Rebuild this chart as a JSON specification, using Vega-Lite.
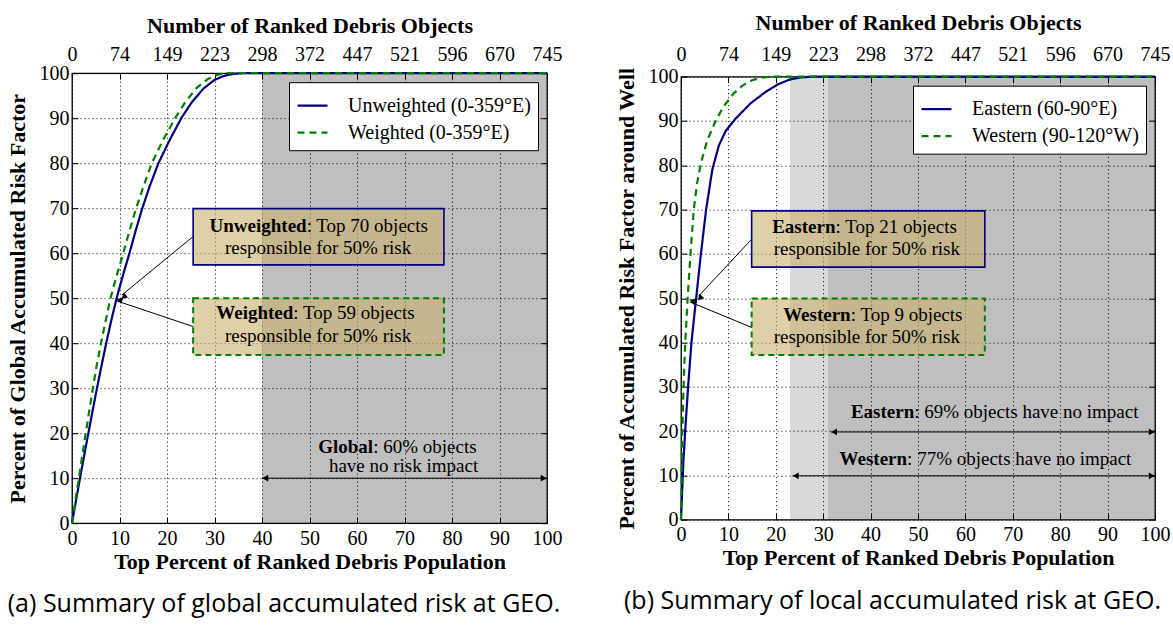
{
  "$schema": "https://vega.github.io/schema/vega-lite/v6.json",
  "background": "white",
  "padding": {"left": 5, "top": 11, "right": 0, "bottom": 5},
  "spacing": 51,
  "center": true,
  "config": {
    "font": "Liberation Serif",
    "view": {"stroke": "black", "strokeWidth": 1.3},
    "axis": {
      "domain": false,
      "labelFlush": false,
      "tickColor": "black",
      "tickSize": -6,
      "tickWidth": 1,
      "labelFont": "Liberation Serif",
      "labelFontSize": 20,
      "labelColor": "black",
      "labelPadding": 11,
      "titleFont": "Liberation Serif",
      "titleFontSize": 22,
      "titleFontWeight": "bold",
      "titleColor": "black",
      "gridColor": "black",
      "gridDash": [1, 3],
      "gridWidth": 1,
      "gridOpacity": 1
    },
    "legend": {
      "orient": "top-right",
      "offset": 9,
      "fillColor": "white",
      "strokeColor": "black",
      "padding": 7,
      "labelFont": "Liberation Serif",
      "labelFontSize": 20,
      "labelColor": "black",
      "labelLimit": 400,
      "symbolType": "stroke",
      "symbolSize": 900,
      "symbolStrokeWidth": 2.2,
      "labelOffset": 19,
      "rowPadding": -5,
      "title": null
    },
    "text": {"font": "Liberation Serif", "fontSize": 19, "color": "black", "baseline": "middle"},
    "title": {"font": "Open Sans", "fontSize": 25, "fontWeight": "normal", "color": "black"}
  },
  "resolve": {
    "scale": {"color": "independent", "strokeDash": "independent", "x": "independent", "y": "independent"},
    "legend": {"color": "independent", "strokeDash": "independent"}
  },
  "hconcat": [
    {
      "width": 475,
      "height": 450,
      "title": {"text": "(a) Summary of global accumulated risk at GEO.", "orient": "bottom", "anchor": "middle", "frame": "bounds", "offset": 20},
      "resolve": {"axis": {"x": "independent", "y": "independent"}},
      "layer": [
        {
          "data": {"values": [{"a": 40, "b": 100, "lo": 0, "hi": 100}]},
          "mark": {"type": "rect", "fill": "black", "opacity": 0.25},
          "encoding": {
            "x": {"field": "a", "type": "quantitative", "scale": {"domain": [0, 100], "nice": false},
              "axis": {"orient": "bottom", "values": [0,10,20,30,40,50,60,70,80,90,100], "grid": true, "title": "Top Percent of Ranked Debris Population", "titlePadding": 3}},
            "x2": {"field": "b"},
            "y": {"field": "lo", "type": "quantitative", "scale": {"domain": [0, 100], "nice": false},
              "axis": {"orient": "left", "values": [0,10,20,30,40,50,60,70,80,90,100], "grid": true, "title": "Percent of Global Accumulated Risk Factor", "labelPadding": 9, "titlePadding": 10}},
            "y2": {"field": "hi"}
          }
        },
        {
          "data": {"values": [
            {"pct": 0, "risk": 0, "series": "Unweighted (0-359°E)"},
            {"pct": 1, "risk": 6, "series": "Unweighted (0-359°E)"},
            {"pct": 2, "risk": 11.8, "series": "Unweighted (0-359°E)"},
            {"pct": 3, "risk": 17.5, "series": "Unweighted (0-359°E)"},
            {"pct": 4, "risk": 23.1, "series": "Unweighted (0-359°E)"},
            {"pct": 5, "risk": 28.6, "series": "Unweighted (0-359°E)"},
            {"pct": 6, "risk": 33.9, "series": "Unweighted (0-359°E)"},
            {"pct": 7.2, "risk": 40, "series": "Unweighted (0-359°E)"},
            {"pct": 8.3, "risk": 45.2, "series": "Unweighted (0-359°E)"},
            {"pct": 9.4, "risk": 50, "series": "Unweighted (0-359°E)"},
            {"pct": 10.7, "risk": 55, "series": "Unweighted (0-359°E)"},
            {"pct": 12.1, "risk": 60, "series": "Unweighted (0-359°E)"},
            {"pct": 13.4, "risk": 65, "series": "Unweighted (0-359°E)"},
            {"pct": 14.8, "risk": 70, "series": "Unweighted (0-359°E)"},
            {"pct": 16.4, "risk": 75, "series": "Unweighted (0-359°E)"},
            {"pct": 18.2, "risk": 80, "series": "Unweighted (0-359°E)"},
            {"pct": 20.5, "risk": 85, "series": "Unweighted (0-359°E)"},
            {"pct": 23, "risk": 90, "series": "Unweighted (0-359°E)"},
            {"pct": 25.2, "risk": 93.5, "series": "Unweighted (0-359°E)"},
            {"pct": 27.6, "risk": 96.5, "series": "Unweighted (0-359°E)"},
            {"pct": 30, "risk": 98.5, "series": "Unweighted (0-359°E)"},
            {"pct": 32, "risk": 99.4, "series": "Unweighted (0-359°E)"},
            {"pct": 34, "risk": 99.85, "series": "Unweighted (0-359°E)"},
            {"pct": 36, "risk": 100, "series": "Unweighted (0-359°E)"},
            {"pct": 100, "risk": 100, "series": "Unweighted (0-359°E)"},
            {"pct": 0, "risk": 0, "series": "Weighted (0-359°E)"},
            {"pct": 1, "risk": 7, "series": "Weighted (0-359°E)"},
            {"pct": 2, "risk": 13.9, "series": "Weighted (0-359°E)"},
            {"pct": 3, "risk": 20.7, "series": "Weighted (0-359°E)"},
            {"pct": 4, "risk": 27.4, "series": "Weighted (0-359°E)"},
            {"pct": 5.1, "risk": 34.5, "series": "Weighted (0-359°E)"},
            {"pct": 6.1, "risk": 40, "series": "Weighted (0-359°E)"},
            {"pct": 7.1, "risk": 45, "series": "Weighted (0-359°E)"},
            {"pct": 8.1, "risk": 50, "series": "Weighted (0-359°E)"},
            {"pct": 9.4, "risk": 55, "series": "Weighted (0-359°E)"},
            {"pct": 10.8, "risk": 60, "series": "Weighted (0-359°E)"},
            {"pct": 12.1, "risk": 65, "series": "Weighted (0-359°E)"},
            {"pct": 13.5, "risk": 70, "series": "Weighted (0-359°E)"},
            {"pct": 15.1, "risk": 75, "series": "Weighted (0-359°E)"},
            {"pct": 16.8, "risk": 80, "series": "Weighted (0-359°E)"},
            {"pct": 19.1, "risk": 85, "series": "Weighted (0-359°E)"},
            {"pct": 21.7, "risk": 90, "series": "Weighted (0-359°E)"},
            {"pct": 23.8, "risk": 93.5, "series": "Weighted (0-359°E)"},
            {"pct": 26.3, "risk": 96.8, "series": "Weighted (0-359°E)"},
            {"pct": 28.6, "risk": 98.7, "series": "Weighted (0-359°E)"},
            {"pct": 30.5, "risk": 99.6, "series": "Weighted (0-359°E)"},
            {"pct": 32.5, "risk": 100, "series": "Weighted (0-359°E)"},
            {"pct": 100, "risk": 100, "series": "Weighted (0-359°E)"}
          ]},
          "mark": {"type": "line", "strokeWidth": 2.2},
          "encoding": {
            "x": {"field": "pct", "type": "quantitative", "scale": {"domain": [0, 100], "nice": false},
              "axis": {"orient": "top", "values": [0,10,20,30,40,50,60,70,80,90,100], "grid": false, "labelExpr": "floor(datum.value * 7.45 + 0.001)", "title": "Number of Ranked Debris Objects", "titlePadding": 7, "labelPadding": 15}},
            "y": {"field": "risk", "type": "quantitative", "scale": {"domain": [0, 100], "nice": false},
              "axis": {"orient": "right", "values": [0,10,20,30,40,50,60,70,80,90,100], "grid": false, "labels": false, "title": null}},
            "color": {"field": "series", "type": "nominal",
              "scale": {"domain": ["Unweighted (0-359°E)", "Weighted (0-359°E)"], "range": ["#000080", "#008000"]}},
            "strokeDash": {"field": "series", "type": "nominal",
              "scale": {"domain": ["Unweighted (0-359°E)", "Weighted (0-359°E)"], "range": [[1, 0], [7, 5]]}}
          }
        },
        {
          "data": {"values": [{"x1": 25.5, "x2": 78.3, "y1": 57.4, "y2": 69.9}]},
          "mark": {"type": "rect", "fill": "#c9b16e", "fillOpacity": 0.6, "stroke": "#000080", "strokeWidth": 1.6},
          "encoding": {
            "x": {"field": "x1", "type": "quantitative", "axis": null},
            "x2": {"field": "x2"},
            "y": {"field": "y1", "type": "quantitative", "axis": null},
            "y2": {"field": "y2"}
          }
        },
        {
          "data": {"values": [{"x1": 25.5, "x2": 78.3, "y1": 37.4, "y2": 50.0}]},
          "mark": {"type": "rect", "fill": "#c9b16e", "fillOpacity": 0.6, "stroke": "#008000", "strokeWidth": 2, "strokeDash": [6, 4]},
          "encoding": {
            "x": {"field": "x1", "type": "quantitative", "axis": null},
            "x2": {"field": "x2"},
            "y": {"field": "y1", "type": "quantitative", "axis": null},
            "y2": {"field": "y2"}
          }
        },
        {
          "data": {"values": [
            {"x1": 25.5, "y1": 63.7, "x2": 10.5, "y2": 50.7},
            {"x1": 25.5, "y1": 43.7, "x2": 9.4, "y2": 49.4},
            {"x1": 40, "y1": 10, "x2": 100, "y2": 10}
          ]},
          "mark": {"type": "rule", "color": "black", "strokeWidth": 1},
          "encoding": {
            "x": {"field": "x1", "type": "quantitative", "axis": null},
            "y": {"field": "y1", "type": "quantitative", "axis": null},
            "x2": {"field": "x2"},
            "y2": {"field": "y2"}
          }
        },
        {
          "data": {"values": [{"x": 10.9, "y": 50.3}]},
          "mark": {"type": "point", "shape": "triangle-up", "angle": 231, "size": 45, "filled": true, "color": "black", "opacity": 1},
          "encoding": {"x": {"field": "x", "type": "quantitative", "axis": null}, "y": {"field": "y", "type": "quantitative", "axis": null}}
        },
        {
          "data": {"values": [{"x": 10.0, "y": 49.6}]},
          "mark": {"type": "point", "shape": "triangle-up", "angle": 288, "size": 45, "filled": true, "color": "black", "opacity": 1},
          "encoding": {"x": {"field": "x", "type": "quantitative", "axis": null}, "y": {"field": "y", "type": "quantitative", "axis": null}}
        },
        {
          "data": {"values": [{"x": 40.7, "y": 10}]},
          "mark": {"type": "point", "shape": "triangle-left", "size": 45, "filled": true, "color": "black", "opacity": 1},
          "encoding": {"x": {"field": "x", "type": "quantitative", "axis": null}, "y": {"field": "y", "type": "quantitative", "axis": null}}
        },
        {
          "data": {"values": [{"x": 99.3, "y": 10}]},
          "mark": {"type": "point", "shape": "triangle-right", "size": 45, "filled": true, "color": "black", "opacity": 1},
          "encoding": {"x": {"field": "x", "type": "quantitative", "axis": null}, "y": {"field": "y", "type": "quantitative", "axis": null}}
        },
        {
          "data": {"values": [
            {"x": 49.4, "y": 66.1, "t": "Unweighted"},
            {"x": 46.6, "y": 46.8, "t": "Weighted"},
            {"x": 63.4, "y": 17.0, "t": "Global"}
          ]},
          "mark": {"type": "text", "align": "right", "fontWeight": "bold"},
          "encoding": {"x": {"field": "x", "type": "quantitative", "axis": null}, "y": {"field": "y", "type": "quantitative", "axis": null}, "text": {"field": "t"}}
        },
        {
          "data": {"values": [
            {"x": 49.4, "y": 66.1, "t": ": Top 70 objects"},
            {"x": 46.6, "y": 46.8, "t": ": Top 59 objects"},
            {"x": 63.4, "y": 17.0, "t": ": 60% objects"}
          ]},
          "mark": {"type": "text", "align": "left"},
          "encoding": {"x": {"field": "x", "type": "quantitative", "axis": null}, "y": {"field": "y", "type": "quantitative", "axis": null}, "text": {"field": "t"}}
        },
        {
          "data": {"values": [
            {"x": 51.8, "y": 61.2, "t": "responsible for 50% risk"},
            {"x": 51.8, "y": 41.6, "t": "responsible for 50% risk"},
            {"x": 69.8, "y": 12.7, "t": "have no risk impact"}
          ]},
          "mark": {"type": "text", "align": "center"},
          "encoding": {"x": {"field": "x", "type": "quantitative", "axis": null}, "y": {"field": "y", "type": "quantitative", "axis": null}, "text": {"field": "t"}}
        }
      ]
    },
    {
      "width": 474,
      "height": 443,
      "title": {"text": "(b) Summary of local accumulated risk at GEO.", "orient": "bottom", "anchor": "middle", "frame": "bounds", "offset": 20},
      "resolve": {"axis": {"x": "independent", "y": "independent"}},
      "layer": [
        {
          "data": {"values": [{"a": 23, "b": 31, "lo": 0, "hi": 100}]},
          "mark": {"type": "rect", "fill": "black", "opacity": 0.15},
          "encoding": {
            "x": {"field": "a", "type": "quantitative", "scale": {"domain": [0, 100], "nice": false},
              "axis": {"orient": "bottom", "values": [0,10,20,30,40,50,60,70,80,90,100], "grid": true, "title": "Top Percent of Ranked Debris Population", "titlePadding": 3}},
            "x2": {"field": "b"},
            "y": {"field": "lo", "type": "quantitative", "scale": {"domain": [0, 100], "nice": false},
              "axis": {"orient": "left", "values": [0,10,20,30,40,50,60,70,80,90,100], "grid": true, "title": "Percent of Accumulated Risk Factor around Well", "labelPadding": 9, "titlePadding": 10}},
            "y2": {"field": "hi"}
          }
        },
        {
          "data": {"values": [{"a": 31, "b": 100, "lo": 0, "hi": 100}]},
          "mark": {"type": "rect", "fill": "black", "opacity": 0.25},
          "encoding": {
            "x": {"field": "a", "type": "quantitative", "axis": null},
            "x2": {"field": "b"},
            "y": {"field": "lo", "type": "quantitative", "axis": null},
            "y2": {"field": "hi"}
          }
        },
        {
          "data": {"values": [
            {"pct": 0, "risk": 0, "series": "Eastern (60-90°E)"},
            {"pct": 0.5, "risk": 13, "series": "Eastern (60-90°E)"},
            {"pct": 1, "risk": 22, "series": "Eastern (60-90°E)"},
            {"pct": 1.5, "risk": 30, "series": "Eastern (60-90°E)"},
            {"pct": 2.2, "risk": 40, "series": "Eastern (60-90°E)"},
            {"pct": 3.2, "risk": 50, "series": "Eastern (60-90°E)"},
            {"pct": 4.2, "risk": 60, "series": "Eastern (60-90°E)"},
            {"pct": 5.3, "risk": 70, "series": "Eastern (60-90°E)"},
            {"pct": 6.6, "risk": 79, "series": "Eastern (60-90°E)"},
            {"pct": 8, "risk": 84.5, "series": "Eastern (60-90°E)"},
            {"pct": 9.4, "risk": 87.7, "series": "Eastern (60-90°E)"},
            {"pct": 11.5, "risk": 90.5, "series": "Eastern (60-90°E)"},
            {"pct": 14.7, "risk": 94, "series": "Eastern (60-90°E)"},
            {"pct": 17.9, "risk": 96.6, "series": "Eastern (60-90°E)"},
            {"pct": 20.5, "risk": 98.3, "series": "Eastern (60-90°E)"},
            {"pct": 22.8, "risk": 99.3, "series": "Eastern (60-90°E)"},
            {"pct": 25, "risk": 99.8, "series": "Eastern (60-90°E)"},
            {"pct": 27.5, "risk": 100, "series": "Eastern (60-90°E)"},
            {"pct": 100, "risk": 100, "series": "Eastern (60-90°E)"},
            {"pct": 0, "risk": 0, "series": "Western (90-120°W)"},
            {"pct": 0.2, "risk": 15, "series": "Western (90-120°W)"},
            {"pct": 0.4, "risk": 25, "series": "Western (90-120°W)"},
            {"pct": 0.7, "risk": 35, "series": "Western (90-120°W)"},
            {"pct": 1.0, "risk": 42, "series": "Western (90-120°W)"},
            {"pct": 1.4, "risk": 50, "series": "Western (90-120°W)"},
            {"pct": 2, "risk": 60, "series": "Western (90-120°W)"},
            {"pct": 2.7, "risk": 70, "series": "Western (90-120°W)"},
            {"pct": 3.4, "risk": 76, "series": "Western (90-120°W)"},
            {"pct": 4.2, "risk": 80.5, "series": "Western (90-120°W)"},
            {"pct": 5.5, "risk": 85.5, "series": "Western (90-120°W)"},
            {"pct": 7.3, "risk": 90, "series": "Western (90-120°W)"},
            {"pct": 9, "risk": 93.3, "series": "Western (90-120°W)"},
            {"pct": 11.2, "risk": 96.3, "series": "Western (90-120°W)"},
            {"pct": 13, "risk": 98, "series": "Western (90-120°W)"},
            {"pct": 15, "risk": 99.2, "series": "Western (90-120°W)"},
            {"pct": 17, "risk": 99.8, "series": "Western (90-120°W)"},
            {"pct": 19, "risk": 100, "series": "Western (90-120°W)"},
            {"pct": 100, "risk": 100, "series": "Western (90-120°W)"}
          ]},
          "mark": {"type": "line", "strokeWidth": 2.2},
          "encoding": {
            "x": {"field": "pct", "type": "quantitative", "scale": {"domain": [0, 100], "nice": false},
              "axis": {"orient": "top", "values": [0,10,20,30,40,50,60,70,80,90,100], "grid": false, "labelExpr": "floor(datum.value * 7.45 + 0.001)", "title": "Number of Ranked Debris Objects", "titlePadding": 10, "labelPadding": 18}},
            "y": {"field": "risk", "type": "quantitative", "scale": {"domain": [0, 100], "nice": false},
              "axis": {"orient": "right", "values": [0,10,20,30,40,50,60,70,80,90,100], "grid": false, "labels": false, "title": null}},
            "color": {"field": "series", "type": "nominal",
              "scale": {"domain": ["Eastern (60-90°E)", "Western (90-120°W)"], "range": ["#000080", "#008000"]}},
            "strokeDash": {"field": "series", "type": "nominal",
              "scale": {"domain": ["Eastern (60-90°E)", "Western (90-120°W)"], "range": [[1, 0], [7, 5]]}}
          }
        },
        {
          "data": {"values": [{"x1": 14.9, "x2": 64.1, "y1": 57.0, "y2": 69.7}]},
          "mark": {"type": "rect", "fill": "#c9b16e", "fillOpacity": 0.6, "stroke": "#000080", "strokeWidth": 1.6},
          "encoding": {
            "x": {"field": "x1", "type": "quantitative", "axis": null},
            "x2": {"field": "x2"},
            "y": {"field": "y1", "type": "quantitative", "axis": null},
            "y2": {"field": "y2"}
          }
        },
        {
          "data": {"values": [{"x1": 14.9, "x2": 64.1, "y1": 37.2, "y2": 49.9}]},
          "mark": {"type": "rect", "fill": "#c9b16e", "fillOpacity": 0.6, "stroke": "#008000", "strokeWidth": 2, "strokeDash": [6, 4]},
          "encoding": {
            "x": {"field": "x1", "type": "quantitative", "axis": null},
            "x2": {"field": "x2"},
            "y": {"field": "y1", "type": "quantitative", "axis": null},
            "y2": {"field": "y2"}
          }
        },
        {
          "data": {"values": [
            {"x1": 14.9, "y1": 63.3, "x2": 3.65, "y2": 50.4},
            {"x1": 14.9, "y1": 43.4, "x2": 1.8, "y2": 49.2},
            {"x1": 31.6, "y1": 19.8, "x2": 100, "y2": 19.8},
            {"x1": 23.5, "y1": 9.9, "x2": 100, "y2": 9.9}
          ]},
          "mark": {"type": "rule", "color": "black", "strokeWidth": 1},
          "encoding": {
            "x": {"field": "x1", "type": "quantitative", "axis": null},
            "y": {"field": "y1", "type": "quantitative", "axis": null},
            "x2": {"field": "x2"},
            "y2": {"field": "y2"}
          }
        },
        {
          "data": {"values": [{"x": 4.0, "y": 50.0}]},
          "mark": {"type": "point", "shape": "triangle-up", "angle": 223, "size": 45, "filled": true, "color": "black", "opacity": 1},
          "encoding": {"x": {"field": "x", "type": "quantitative", "axis": null}, "y": {"field": "y", "type": "quantitative", "axis": null}}
        },
        {
          "data": {"values": [{"x": 2.4, "y": 49.4}]},
          "mark": {"type": "point", "shape": "triangle-up", "angle": 292, "size": 45, "filled": true, "color": "black", "opacity": 1},
          "encoding": {"x": {"field": "x", "type": "quantitative", "axis": null}, "y": {"field": "y", "type": "quantitative", "axis": null}}
        },
        {
          "data": {"values": [{"x": 32.3, "y": 19.8}, {"x": 24.2, "y": 9.9}]},
          "mark": {"type": "point", "shape": "triangle-left", "size": 45, "filled": true, "color": "black", "opacity": 1},
          "encoding": {"x": {"field": "x", "type": "quantitative", "axis": null}, "y": {"field": "y", "type": "quantitative", "axis": null}}
        },
        {
          "data": {"values": [{"x": 99.3, "y": 19.8}, {"x": 99.3, "y": 9.9}]},
          "mark": {"type": "point", "shape": "triangle-right", "size": 45, "filled": true, "color": "black", "opacity": 1},
          "encoding": {"x": {"field": "x", "type": "quantitative", "axis": null}, "y": {"field": "y", "type": "quantitative", "axis": null}}
        },
        {
          "data": {"values": [
            {"x": 32.6, "y": 66.0, "t": "Eastern"},
            {"x": 35.8, "y": 46.1, "t": "Western"},
            {"x": 49.2, "y": 24.3, "t": "Eastern"},
            {"x": 47.7, "y": 13.7, "t": "Western"}
          ]},
          "mark": {"type": "text", "align": "right", "fontWeight": "bold"},
          "encoding": {"x": {"field": "x", "type": "quantitative", "axis": null}, "y": {"field": "y", "type": "quantitative", "axis": null}, "text": {"field": "t"}}
        },
        {
          "data": {"values": [
            {"x": 32.6, "y": 66.0, "t": ": Top 21 objects"},
            {"x": 35.8, "y": 46.1, "t": ": Top 9 objects"},
            {"x": 49.2, "y": 24.3, "t": ": 69% objects have no impact"},
            {"x": 47.7, "y": 13.7, "t": ": 77% objects have no impact"}
          ]},
          "mark": {"type": "text", "align": "left"},
          "encoding": {"x": {"field": "x", "type": "quantitative", "axis": null}, "y": {"field": "y", "type": "quantitative", "axis": null}, "text": {"field": "t"}}
        },
        {
          "data": {"values": [
            {"x": 39.2, "y": 61.0, "t": "responsible for 50% risk"},
            {"x": 39.2, "y": 41.2, "t": "responsible for 50% risk"}
          ]},
          "mark": {"type": "text", "align": "center"},
          "encoding": {"x": {"field": "x", "type": "quantitative", "axis": null}, "y": {"field": "y", "type": "quantitative", "axis": null}, "text": {"field": "t"}}
        }
      ]
    }
  ]
}
